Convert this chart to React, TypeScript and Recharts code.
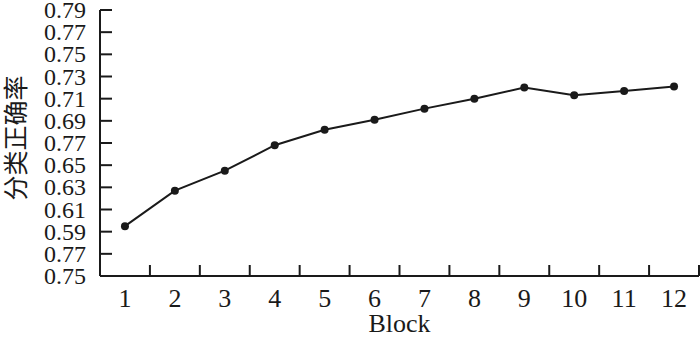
import { LineChart, Line, XAxis, YAxis } from "recharts";

const blocks = [1, 2, 3, 4, 5, 6, 7, 8, 9, 10, 11, 12];
const accuracy = [
  0.595, 0.627, 0.645, 0.668, 0.682, 0.691, 0.701, 0.71, 0.72, 0.713, 0.717,
  0.721,
];
const yTicks = [
  0.55, 0.57, 0.59, 0.61, 0.63, 0.65, 0.67, 0.69, 0.71, 0.73, 0.75, 0.77, 0.79,
];
// labels as printed in the original figure (some are misprinted there)
const yTickLabels = [
  "0.75", "0.77", "0.59", "0.61", "0.63", "0.65", "0.77", "0.69", "0.71",
  "0.73", "0.75", "0.77", "0.79",
];

const W = 700;
const H = 337;
const LEFT = 100;
const RIGHT = 1;
const BAND = (W - LEFT - RIGHT) / blocks.length;
const SERIF = '"Liberation Serif", "Times New Roman", serif';
const INK = "#1a1a1a";

const data = blocks.map((b, i) => ({ block: b, acc: accuracy[i] }));

function YTick({ x, y, payload }: any) {
  const idx = yTicks.indexOf(payload.value);
  return (
    <g>
      <line x1={x} y1={y} x2={x + 12} y2={y} stroke={INK} strokeWidth={2} />
      <text
        x={x - 14}
        y={y + 8}
        textAnchor="end"
        fontFamily={SERIF}
        fontSize={24}
        fill={INK}
      >
        {yTickLabels[idx]}
      </text>
    </g>
  );
}

function XTick({ x, y, payload }: any) {
  const bx = x + BAND / 2;
  return (
    <g>
      <line x1={bx} y1={y} x2={bx} y2={y - 11} stroke={INK} strokeWidth={2} />
      <text
        x={x}
        y={y + 31}
        textAnchor="middle"
        fontFamily={SERIF}
        fontSize={26}
        fill={INK}
      >
        {payload.value}
      </text>
    </g>
  );
}

export default function App() {
  return (
    <div style={{ position: "absolute", left: 0, top: 0, background: "#fff" }}>
      <LineChart
        width={W}
        height={H}
        data={data}
        margin={{ top: 10, right: RIGHT, bottom: 0, left: 0 }}
      >
        <XAxis
          dataKey="block"
          type="number"
          domain={[0.5, 12.5]}
          ticks={blocks}
          interval={0}
          height={61}
          tickSize={0}
          tickMargin={0}
          tickLine={false}
          tick={<XTick />}
          axisLine={{ stroke: INK, strokeWidth: 2 }}
          label={(props: any) => {
            const vb = props.viewBox;
            return (
              <text
                x={vb.x + vb.width / 2}
                y={332}
                textAnchor="middle"
                fontFamily={SERIF}
                fontSize={26}
                fill={INK}
              >
                Block
              </text>
            );
          }}
        />
        <YAxis
          type="number"
          domain={[0.55, 0.79]}
          ticks={yTicks}
          interval={0}
          width={LEFT}
          tickSize={0}
          tickMargin={0}
          tickLine={false}
          tick={<YTick />}
          axisLine={{ stroke: INK, strokeWidth: 2 }}
          label={() => (
            <text
              x={14}
              y={138}
              transform="rotate(-90 14 138)"
              textAnchor="middle"
              dominantBaseline="central"
              fontFamily={'"Noto Sans CJK SC", sans-serif'}
              fontSize={25}
              fill={INK}
            >
              分类正确率
            </text>
          )}
        />
        <Line
          dataKey="acc"
          type="linear"
          stroke={INK}
          strokeWidth={2}
          dot={{ r: 4, fill: INK, stroke: INK, strokeWidth: 0 }}
          isAnimationActive={false}
        />
      </LineChart>
    </div>
  );
}
